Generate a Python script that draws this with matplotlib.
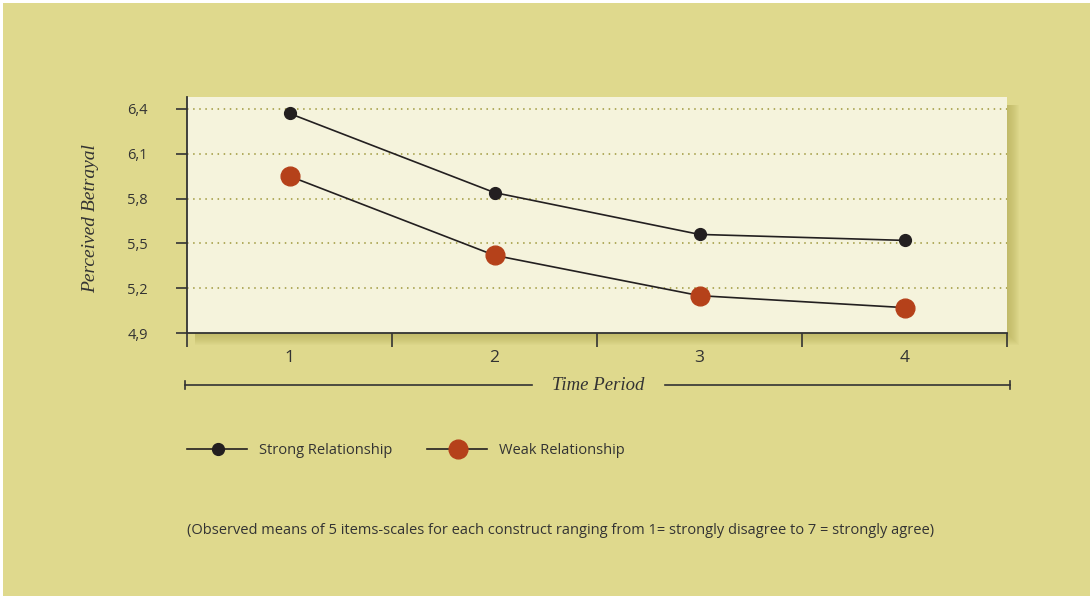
import numpy as np
import matplotlib.pyplot as plt
from matplotlib.patches import Rectangle
from matplotlib.lines import Line2D

# ---- data ----
periods = [1, 2, 3, 4]
strong = [6.37, 5.84, 5.56, 5.52]
weak = [5.95, 5.42, 5.15, 5.07]
yticks = [4.9, 5.2, 5.5, 5.8, 6.1, 6.4]
ytick_labels = ["4,9", "5,2", "5,5", "5,8", "6,1", "6,4"]
series_names = ["Strong Relationship", "Weak Relationship"]
note = ("(Observed means of 5 items-scales for each construct ranging "
        "from 1= strongly disagree to 7 = strongly agree)")

BG = "#DFD98D"
PLOT_BG = "#F5F3DC"
INK = "#231F20"
RED = "#B5411A"
GRID = "#9E973A"

W, H = 1090, 596
fig = plt.figure(figsize=(W / 100, H / 100), dpi=100)
fig.patch.set_facecolor("white")
fig.patches.append(Rectangle((3 / W, 0), 1 - 3 / W, 1 - 3 / H, transform=fig.transFigure,
                             facecolor=BG, edgecolor="none", zorder=-10))

# axes box in pixels
x0, x1, ytop, ybot = 187, 1007, 97, 333
ax = fig.add_axes([x0 / W, 1 - ybot / H, (x1 - x0) / W, (ybot - ytop) / H])

# soft drop shadow (right and bottom)
for i in range(12, 0, -1):
    fig.patches.append(Rectangle(((x0 + 8) / W, 1 - (ybot + i) / H), (x1 - x0 - 8 + i) / W,
                                 (ybot - ytop - 8 + i) / H, transform=fig.transFigure,
                                 facecolor="#B3AC55", alpha=0.07, edgecolor="none", zorder=-5))

ax.set_facecolor(PLOT_BG)
ax.set_xlim(0.5, 4.5)
ax.set_ylim(4.9, 6.48)

for s in ["top", "right"]:
    ax.spines[s].set_visible(False)
for s in ["left", "bottom"]:
    ax.spines[s].set_color("#333333")
    ax.spines[s].set_linewidth(1.3)

ax.set_yticks(yticks)
ax.set_yticklabels(ytick_labels, family="Open Sans", fontsize=10.5, color="#333333")
ax.tick_params(axis="y", direction="out", length=8, width=1.2, color="#333333", pad=20)

ax.set_xticks([0.5, 1.5, 2.5, 3.5, 4.5])
ax.set_xticklabels([])
ax.tick_params(axis="x", which="major", direction="out", length=10, width=1.2, color="#333333")
ax.set_xticks(periods, minor=True)
ax.set_xticklabels([str(p) for p in periods], minor=True, family="Open Sans",
                   fontsize=12.5, color="#333333")
ax.tick_params(axis="x", which="minor", length=0, pad=12)

for y in yticks[1:]:
    ax.axhline(y, color=GRID, linestyle=(0, (1, 3)), linewidth=1.1, zorder=1)

ax.plot(periods, strong, color=INK, linewidth=1.2, marker="o", markersize=8.5,
        markerfacecolor=INK, markeredgecolor=INK, zorder=3)
ax.plot(periods, weak, color=INK, linewidth=1.2, marker="o", markersize=13.5,
        markerfacecolor=RED, markeredgecolor=RED, zorder=3)

fig.text(91 / W, 1 - 219 / H, "Perceived Betrayal",
         family="Liberation Serif", style="italic", fontsize=14, color="#333333",
         rotation=90, ha="center", va="center")

# "Time Period" axis line
yl = 1 - 385 / H
fig.add_artist(Line2D([185 / W, 532 / W], [yl, yl], color="#333333", linewidth=1.2))
fig.add_artist(Line2D([665 / W, 1010 / W], [yl, yl], color="#333333", linewidth=1.2))
for xe in [185, 1010]:
    fig.add_artist(Line2D([xe / W, xe / W], [yl - 4 / H, yl + 4 / H], color="#333333", linewidth=1.2))
fig.text(598 / W, yl, "Time Period", family="Liberation Serif", style="italic",
         fontsize=13.5, color="#333333", ha="center", va="center")

# legend
ly = 1 - 449 / H
for (lx, name, ms, fc) in [(187, series_names[0], 8.5, INK), (427, series_names[1], 13.5, RED)]:
    fig.add_artist(Line2D([lx / W, (lx + 60) / W], [ly, ly], color=INK, linewidth=1.2))
    fig.add_artist(Line2D([(lx + 31) / W], [ly], marker="o", markersize=ms,
                          markerfacecolor=fc, markeredgecolor=fc, linestyle="none"))
    fig.text((lx + 72) / W, ly - 1 / H, name, family="Open Sans", fontsize=10.5,
             color="#333333", ha="left", va="center")

fig.text(187 / W, 1 - 530 / H, note, family="Open Sans", fontsize=10.5,
         color="#333333", ha="left", va="center")

fig.savefig("out.png", dpi=100, facecolor=fig.get_facecolor())
